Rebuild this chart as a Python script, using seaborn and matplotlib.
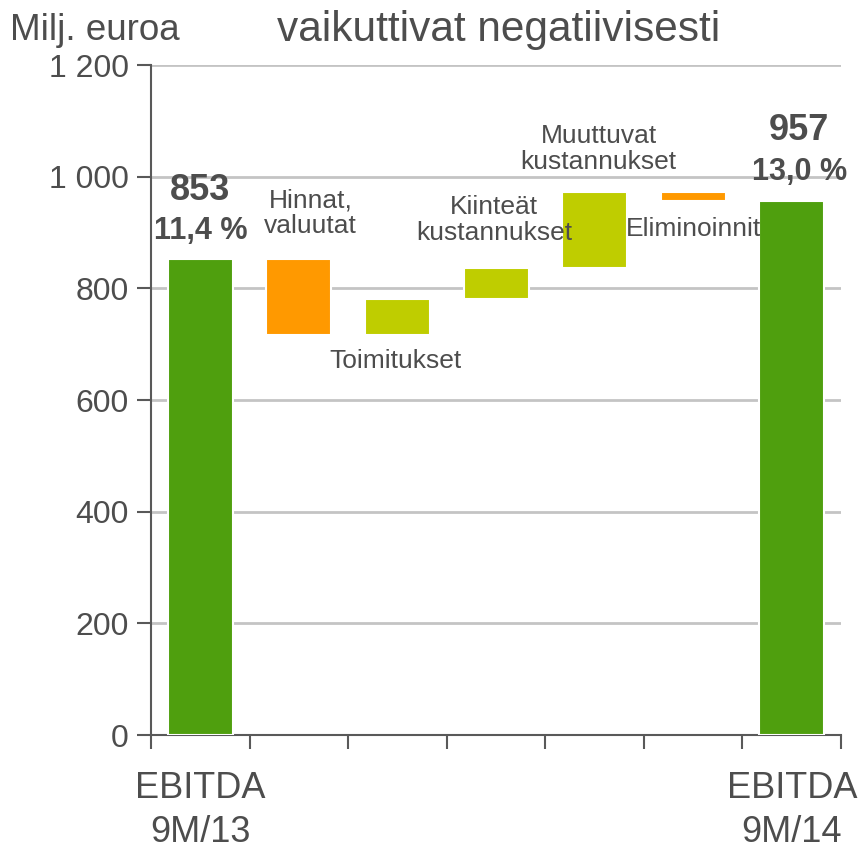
import matplotlib.pyplot as plt
import numpy as np
import pandas as pd
import seaborn as sns

# waterfall data (milj. euroa)
steps = ["EBITDA 9M/13", "Hinnat, valuutat", "Toimitukset", "Kiinteät kustannukset",
         "Muuttuvat kustannukset", "Eliminoinnit", "EBITDA 9M/14"]
start_value = 853
deltas = [-136, 64, 56, 135, -15]
end_value = 957
kinds = ["total", "neg", "pos", "pos", "pos", "neg", "total"]
margins = ["11,4 %", "13,0 %"]
tick_labels = ["EBITDA\n9M/13", "", "", "", "", "", "EBITDA\n9M/14"]
step_labels = ["Hinnat,\nvaluutat", "Toimitukset", "Kiinteät\nkustannukset",
               "Muuttuvat\nkustannukset", "Eliminoinnit"]


def main():
    sns.set_theme(style="white")
    plt.rcParams["font.family"] = ["Liberation Sans", "DejaVu Sans"]
    text_c = "#4d4d4d"
    axis_c = "#595959"
    colors = {"total": "#4f9f0e", "neg": "#ff9900", "pos": "#bfcd00"}

    levels = np.cumsum([start_value] + deltas)
    bottoms = [0] + [min(levels[i], levels[i + 1]) for i in range(len(deltas))] + [0]
    heights = [start_value] + [abs(d) for d in deltas] + [end_value]
    df = pd.DataFrame({"step": steps, "height": heights, "bottom": bottoms, "kind": kinds})

    fig = plt.figure(figsize=(8.65, 8.51), dpi=100)
    ax = fig.add_axes([0.1746, 0.1363, 0.7977, 0.7873])

    sns.barplot(data=df, x="step", y="height", bottom=df["bottom"].values,
                color=colors["total"], width=0.66, edgecolor="white",
                linewidth=1.5, zorder=3, ax=ax)
    for patch, kind in zip(ax.patches, df["kind"]):
        patch.set_facecolor(colors[kind])

    ax.set_ylim(0, 1200)
    ax.set_xlim(-0.5, 6.5)
    ax.set_yticks(range(0, 1201, 200))
    ax.set_yticklabels(["0", "200", "400", "600", "800", "1 000", "1 200"])
    for y in range(200, 1201, 200):
        ax.axhline(y, color="#c4c4c4", linewidth=2, zorder=1)

    ax.set_xticks(range(7))
    ax.set_xticklabels(tick_labels, fontsize=26, color=text_c, linespacing=1.33)
    ax.set_xticks(np.arange(-0.5, 7, 1), minor=True)
    ax.tick_params(axis="x", which="major", length=0, pad=26)
    ax.tick_params(axis="x", which="minor", bottom=True, length=10, width=1.5,
                   color=axis_c, direction="out")
    ax.tick_params(axis="y", length=10, width=1.5, color=axis_c, direction="out",
                   labelsize=23, labelcolor=text_c, pad=6, left=True)
    ax.set_xlabel("")
    ax.set_ylabel("")

    for side in ["top", "right"]:
        ax.spines[side].set_visible(False)
    for side in ["left", "bottom"]:
        ax.spines[side].set_color(axis_c)
        ax.spines[side].set_linewidth(1.5)

    # totals
    ax.text(0, 976, str(start_value), ha="center", va="center", fontsize=26,
            fontweight="bold", color=text_c, zorder=5)
    ax.text(0, 902, margins[0], ha="center", va="center", fontsize=22,
            fontweight="bold", color=text_c, zorder=5)
    ax.text(6.07, 1082, str(end_value), ha="center", va="center", fontsize=26,
            fontweight="bold", color=text_c, zorder=5)
    ax.text(6.08, 1008, margins[1], ha="center", va="center", fontsize=22,
            fontweight="bold", color=text_c, zorder=5)

    # step labels
    pos = [(1.12, 935), (1.98, 670), (2.98, 922), (4.04, 1050), (5.0, 906)]
    for lab, (x, y) in zip(step_labels, pos):
        ax.text(x, y, lab, ha="center", va="center", fontsize=19,
                color=text_c, linespacing=1.1, zorder=5)

    fig.text(10 / 865, 1 - 30 / 851, "Milj. euroa", ha="left", va="center",
             fontsize=26.5, color=text_c)
    fig.text(499 / 865, 1 - 30 / 851, "vaikuttivat negatiivisesti", ha="center",
             va="center", fontsize=30.5, color=text_c)

    fig.savefig("out.png", dpi=100)
    plt.close(fig)


if __name__ == "__main__":
    main()
